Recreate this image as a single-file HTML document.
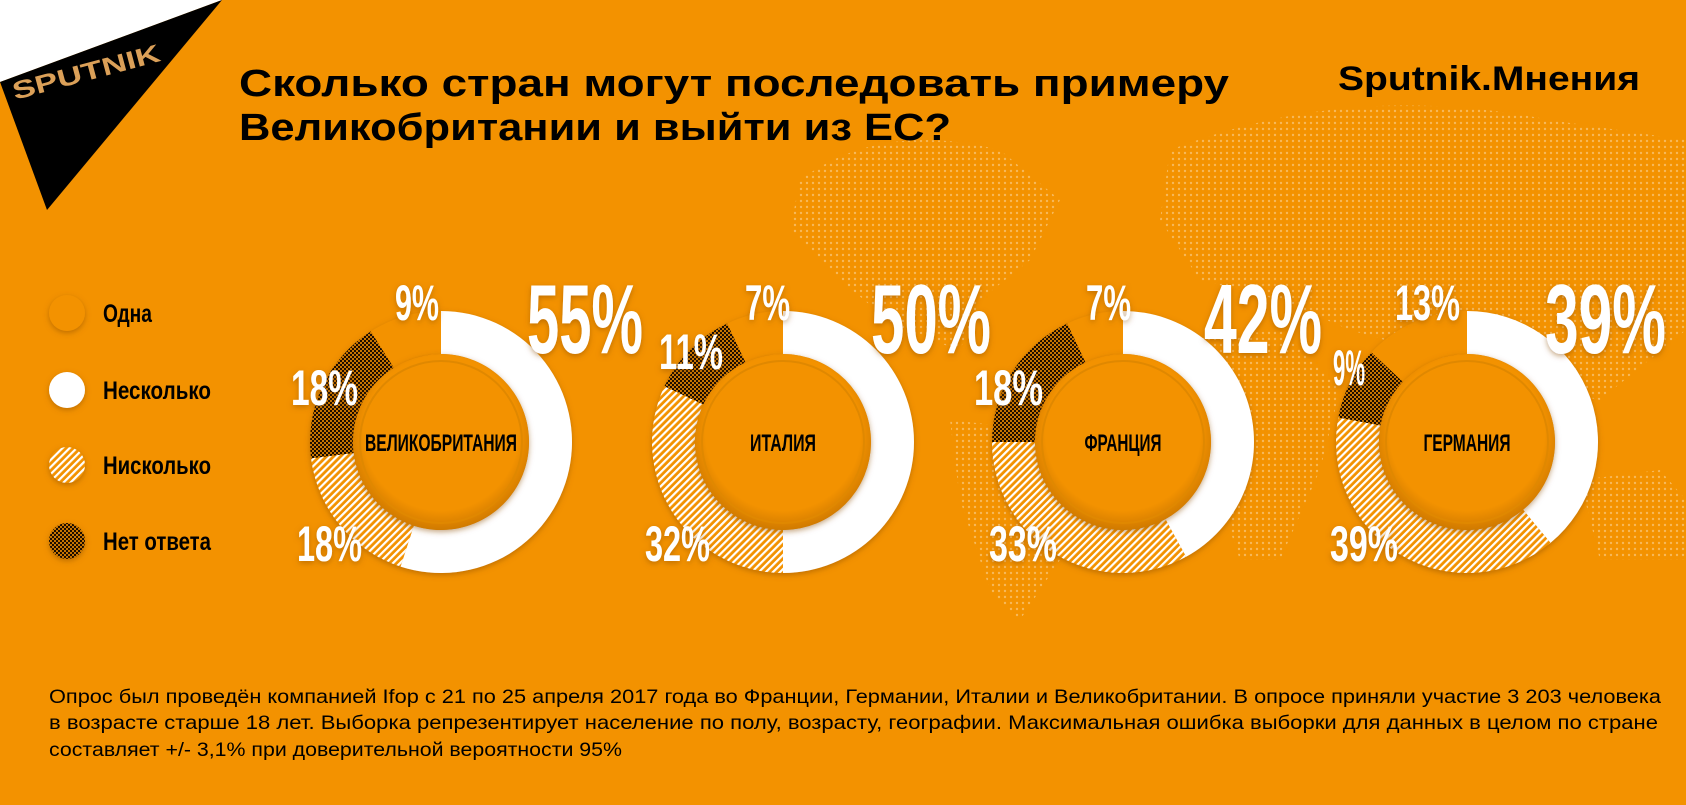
<!DOCTYPE html>
<html><head><meta charset="utf-8"><style>
body{margin:0;width:1686px;height:805px;overflow:hidden;background:#F39200;}
svg{display:block}
</style></head><body>
<svg width="1686" height="805" viewBox="0 0 1686 805" xmlns="http://www.w3.org/2000/svg">
<defs>
<pattern id="hatch" width="5" height="5" patternUnits="userSpaceOnUse" patternTransform="rotate(45)">
<rect width="5" height="5" fill="#F39200"/><rect width="2.2" height="5" fill="#fff"/>
</pattern>
<pattern id="check" width="4" height="4" patternUnits="userSpaceOnUse">
<rect width="4" height="4" fill="#C87400"/><rect width="2" height="2" fill="#1a1005"/><rect x="2" y="2" width="2" height="2" fill="#1a1005"/>
</pattern>
<pattern id="dots" width="6" height="6" patternUnits="userSpaceOnUse">
<circle cx="3" cy="3" r="1.2" fill="#fff"/>
</pattern>
<filter id="sh" x="-20%" y="-20%" width="140%" height="140%"><feDropShadow dx="0" dy="2" stdDeviation="3" flood-color="#8a4a00" flood-opacity="0.5"/></filter>
<radialGradient id="disk" cx="50%" cy="45%" r="55%"><stop offset="0.8" stop-color="#F39200"/><stop offset="1" stop-color="#D07A00"/></radialGradient>
</defs>
<!-- map -->
<g fill="url(#dots)" opacity="0.35">
<path d="M800 180 Q880 120 1000 150 L1060 200 L1030 260 L980 300 L960 350 L900 330 L840 280 L790 230Z"/>
<path d="M950 420 L1040 430 L1090 480 L1060 560 L1020 620 L990 590 L960 500Z"/>
<path d="M1170 150 Q1350 80 1550 120 L1686 140 L1686 330 L1600 400 L1500 380 L1420 350 L1350 330 L1280 300 L1200 280 L1160 220Z"/>
<path d="M1180 340 L1280 330 L1340 390 L1320 470 L1280 560 L1240 560 L1210 470 L1170 420Z"/>
<path d="M1580 480 L1660 470 L1686 500 L1686 560 L1600 560Z"/>
</g>
<!-- logo -->
<polygon points="0,0 222,0 0,82" fill="#fff"/>
<polygon points="0,82 222,0 47,210" fill="#000"/>
<text x="15" y="100" transform="rotate(-15 15 100)" font-family="Liberation Sans, sans-serif" font-weight="bold" font-size="25" fill="#DBA058" textLength="152" lengthAdjust="spacingAndGlyphs">SPUTNIK</text>
<!-- title -->
<g font-family="Liberation Sans, sans-serif" font-weight="bold" fill="#000">
<text x="239" y="96" font-size="38" textLength="990" lengthAdjust="spacingAndGlyphs">Сколько стран могут последовать примеру</text>
<text x="239" y="140" font-size="38" textLength="712" lengthAdjust="spacingAndGlyphs">Великобритании и выйти из ЕС?</text>
<text x="1338" y="90" font-size="34" textLength="302" lengthAdjust="spacingAndGlyphs">Sputnik.Мнения</text>
</g>
<!-- legend -->
<g filter="url(#sh)">
<circle cx="67" cy="313" r="18" fill="#F39200"/>
<circle cx="67" cy="390" r="18" fill="#fff"/>
<circle cx="67" cy="465" r="18" fill="url(#hatch)"/>
<circle cx="67" cy="541" r="18" fill="url(#check)"/>
</g>
<g font-family="Liberation Sans Narrow, Liberation Sans, sans-serif" font-weight="bold" font-size="25" fill="#000">
<text x="103" y="322" textLength="49" lengthAdjust="spacingAndGlyphs">Одна</text>
<text x="103" y="399" textLength="108" lengthAdjust="spacingAndGlyphs">Несколько</text>
<text x="103" y="474" textLength="108" lengthAdjust="spacingAndGlyphs">Нисколько</text>
<text x="103" y="550" textLength="108" lengthAdjust="spacingAndGlyphs">Нет ответа</text>
</g>
<g id="donuts"></g>
<!-- labels -->
<g font-family="Liberation Sans Narrow, Liberation Sans, sans-serif" font-weight="bold" fill="#fff" filter="url(#sh)">
<text x="395" y="320" font-size="50" textLength="44" lengthAdjust="spacingAndGlyphs">9%</text>
<text x="291" y="405" font-size="50" textLength="67" lengthAdjust="spacingAndGlyphs">18%</text>
<text x="297" y="561" font-size="50" textLength="65" lengthAdjust="spacingAndGlyphs">18%</text>
<text x="527" y="353" font-size="98" textLength="116" lengthAdjust="spacingAndGlyphs">55%</text>
<text x="745" y="320" font-size="50" textLength="45" lengthAdjust="spacingAndGlyphs">7%</text>
<text x="659" y="369" font-size="50" textLength="64" lengthAdjust="spacingAndGlyphs">11%</text>
<text x="645" y="561" font-size="50" textLength="65" lengthAdjust="spacingAndGlyphs">32%</text>
<text x="871" y="353" font-size="98" textLength="120" lengthAdjust="spacingAndGlyphs">50%</text>
<text x="1086" y="320" font-size="50" textLength="45" lengthAdjust="spacingAndGlyphs">7%</text>
<text x="974" y="405" font-size="50" textLength="69" lengthAdjust="spacingAndGlyphs">18%</text>
<text x="989" y="561" font-size="50" textLength="68" lengthAdjust="spacingAndGlyphs">33%</text>
<text x="1204" y="353" font-size="98" textLength="118" lengthAdjust="spacingAndGlyphs">42%</text>
<text x="1395" y="320" font-size="50" textLength="65" lengthAdjust="spacingAndGlyphs">13%</text>
<text x="1333" y="385" font-size="50" textLength="32" lengthAdjust="spacingAndGlyphs">9%</text>
<text x="1330" y="561" font-size="50" textLength="68" lengthAdjust="spacingAndGlyphs">39%</text>
<text x="1545" y="353" font-size="98" textLength="121" lengthAdjust="spacingAndGlyphs">39%</text>
</g>
<g font-family="Liberation Sans, sans-serif" font-size="19.5" fill="#000">
<text x="49" y="703" textLength="1612" lengthAdjust="spacingAndGlyphs">Опрос был проведён компанией Ifop с 21 по 25 апреля 2017 года во Франции, Германии, Италии и Великобритании. В опросе приняли участие 3 203 человека</text>
<text x="49" y="729" textLength="1609" lengthAdjust="spacingAndGlyphs">в возрасте старше 18 лет. Выборка репрезентирует население по полу, возрасту, географии. Максимальная ошибка выборки для данных в целом по стране</text>
<text x="49" y="756" textLength="573" lengthAdjust="spacingAndGlyphs">составляет +/- 3,1% при доверительной вероятности 95%</text>
</g>
</svg>
<script>
(function(){
var NS="http://www.w3.org/2000/svg";
var g=document.getElementById("donuts");
var data=[[441,"ВЕЛИКОБРИТАНИЯ",[55,18,18,9],152],[783,"ИТАЛИЯ",[50,32,11,7],66],[1123,"ФРАНЦИЯ",[42,33,18,7],77],[1467,"ГЕРМАНИЯ",[39,39,9,13],87]];
var fills=["#fff","url(#hatch)","url(#check)","#F39200"];
var cy=442,R=131,r=88;
function pt(cx,a,rad){var t=a/100*2*Math.PI;return [cx+rad*Math.sin(t),cy-rad*Math.cos(t)];}
data.forEach(function(d){
 var cx=d[0],a=0;
 var grp=document.createElementNS(NS,"g");grp.setAttribute("filter","url(#sh)");
 d[2].forEach(function(v,i){
  var a2=a+v,p1=pt(cx,a,R),p2=pt(cx,a2,R),p3=pt(cx,a2,r),p4=pt(cx,a,r),L=v>50?1:0;
  var p=document.createElementNS(NS,"path");
  p.setAttribute("d","M"+p1+" A"+R+","+R+" 0 "+L+" 1 "+p2+" L"+p3+" A"+r+","+r+" 0 "+L+" 0 "+p4+"Z");
  p.setAttribute("fill",fills[i]);grp.appendChild(p);a=a2;
 });
 g.appendChild(grp);
 var c=document.createElementNS(NS,"circle");c.setAttribute("cx",cx);c.setAttribute("cy",cy);c.setAttribute("r",r);c.setAttribute("fill","url(#disk)");c.setAttribute("filter","url(#sh)");g.appendChild(c);
 var c2=document.createElementNS(NS,"circle");c2.setAttribute("cx",cx);c2.setAttribute("cy",cy);c2.setAttribute("r",r-7);c2.setAttribute("fill","none");c2.setAttribute("stroke","#E08800");c2.setAttribute("stroke-width","2");g.appendChild(c2);
 var t=document.createElementNS(NS,"text");t.setAttribute("x",cx);t.setAttribute("y",cy+9);t.setAttribute("text-anchor","middle");
 t.setAttribute("font-family","Liberation Sans Narrow, Liberation Sans, sans-serif");t.setAttribute("font-weight","bold");t.setAttribute("font-size","24");
 t.setAttribute("textLength",d[3]);t.setAttribute("lengthAdjust","spacingAndGlyphs");t.textContent=d[1];g.appendChild(t);
});
})();
</script>
</body></html>
